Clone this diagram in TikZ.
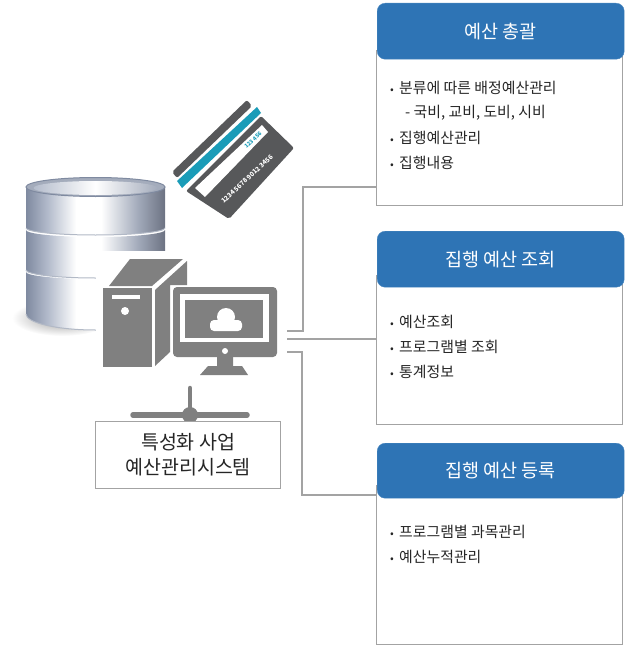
\documentclass[tikz,border=0pt]{standalone}
\usepackage{fontspec}
\setmainfont{Noto Sans CJK KR}
\usepackage{tikz}
\usetikzlibrary{positioning}
\definecolor{colorHead}{HTML}{2E74B5}
\definecolor{colorLine}{HTML}{A3A3A3}
\definecolor{colorIcon}{HTML}{808080}
\definecolor{colorCard}{HTML}{57585A}
\definecolor{colorTeal}{HTML}{1A9CB8}
\definecolor{tierA}{HTML}{7F8AA0}
\definecolor{tierB}{HTML}{B4BCCC}
\definecolor{tierC}{HTML}{A4ACBC}
\definecolor{tierD}{HTML}{6C7282}
\pgfdeclarehorizontalshading{tiershade}{100bp}{
  color(0bp)=(tierA); color(25bp)=(tierA);
  color(33bp)=(tierB); color(43bp)=(white);
  color(52bp)=(white); color(65bp)=(tierC);
  color(75bp)=(tierD); color(100bp)=(tierD)}
\tikzset{
  headbox/.style={draw=colorHead!85!white, fill=colorHead, rounded corners=8pt, text=white,
    minimum width=247pt, minimum height=56pt, inner sep=0pt, anchor=north west, font=\fontsize{18.5}{20}\selectfont},
  bodybox/.style={draw=colorLine, line width=1.2pt, fill=white, minimum width=246pt, inner sep=0pt, anchor=north west},
  listitem/.style={anchor=west, inner sep=0pt, text=black!85, font=\fontsize{14.9}{16}\selectfont},
  wire/.style={draw=colorLine, line width=1.2pt},
  tier/.style={shading=tiershade},
  tieredge/.style={draw=tierA!60!white, line width=1pt},
  icon/.style={fill=colorIcon, draw=none}
}
\newcommand{\itm}[1]{\makebox[9pt][l]{\raisebox{0.5pt}{\fontsize{11}{11}\selectfont •}}#1}
\newcommand{\dbtier}[3]{
  \path[tier] (26,#1) -- (26,#2) arc[start angle=180, end angle=0, x radius=69.5, y radius=#3]
    -- (165,#1) arc[start angle=0, end angle=180, x radius=69.5, y radius=7] -- cycle;
  \draw[tieredge] (26,#2) arc[start angle=180, end angle=0, x radius=69.5, y radius=#3];
}
\begin{document}
\begin{tikzpicture}[x=1pt,y=-1pt]
  \useasboundingbox (0,0) rectangle (629,650);
  % database
  \shade[inner color=black!40, outer color=white] (62,318) ellipse [x radius=50, y radius=18];
  \dbtier{272}{314}{16}
  \dbtier{230}{270}{8}
  \dbtier{187}{228}{7}
  \draw[tierA, fill=tierC, line width=1pt] (95.5,187) ellipse [x radius=69.5, y radius=9.5];
  \shade[left color=tierB, right color=tierC, middle color=white] (95.5,188) ellipse [x radius=62, y radius=7];
  % white back of the computer
  \fill[white] (96,251) rectangle (285,385);
  % card
  \fill[colorCard, rounded corners=2pt] (172,172) -- (247,100) -- (252,106) -- (177,178) -- cycle;
  \fill[colorTeal] (177,181) -- (257,107) -- (261,113) -- (182,188) -- cycle;
  \fill[colorCard, rounded corners=2pt] (186,191) -- (261,116) -- (294,148) -- (229,219) -- cycle;
  \fill[white] (195,188) -- (262,125) -- (268,132) -- (205,197) -- cycle;
  \node (cardcode) [rotate=43, text=colorTeal, inner sep=0pt, font=\fontsize{5.5}{6}\selectfont\bfseries] at (253,140) {123 456};
  \node (cardnum) [rotate=43, text=white, inner sep=0pt, font=\fontsize{6.5}{7}\selectfont\bfseries] at (247,179) {1234 5678 9012 3456};
  % computer
  \fill[icon] (103,288) -- (152,288) -- (152,367) -- (103,367) -- cycle;
  \fill[icon] (109,286) -- (130,259) -- (183,259) -- (152,286) -- cycle;
  \fill[icon] (155,290) -- (187,261) -- (187,285) -- (170,285) -- (170,352) -- (155,366) -- cycle;
  \fill[white] (112,295) rectangle (140,299);
  \fill[white] (125,311) circle (4);
  \fill[icon, rounded corners=4pt] (173,287) rectangle (277,357);
  \fill[white] (180,294) rectangle (269,342);
  \fill[icon] (185,300) rectangle (263,338);
  \fill[white, rounded corners=4pt] (210,320) rectangle (242,331);
  \fill[white] (226,317) circle (9);
  \fill[white] (225,351) circle (3);
  \fill[icon] (217,357) -- (233,357) -- (233,366) -- (242,366) -- (248,375) -- (200,375) -- (208,366) -- (217,366) -- cycle;
  % network
  \coordinate (netTop) at (190,388);
  \coordinate (netMid) at (190,415);
  \coordinate (netLeft) at (133,415);
  \coordinate (netRight) at (247,415);
  \draw[colorIcon, line width=4.5pt, line cap=round] (netTop) -- (netMid);
  \draw[colorIcon, line width=5.5pt, line cap=round] (netLeft) -- (netRight);
  \fill[colorIcon] (netMid) circle (8);
  \node (system) [draw=colorLine, line width=1.2pt, fill=white, minimum width=185pt, minimum height=67pt, inner sep=0pt,
    align=center, anchor=north west, text=black!85, font=\fontsize{19.5}{25}\selectfont] at (95,421) {특성화 사업\\예산관리시스템};
  % boxes
  \node (sumBody) [bodybox, minimum height=155pt] at (376,50) {};
  \node (sumHead) [headbox] at (377,3) {예산 총괄};
  \node (viewBody) [bodybox, minimum height=149pt] at (376,275) {};
  \node (viewHead) [headbox] at (377,231) {집행 예산 조회};
  \node (regBody) [bodybox, minimum height=159pt] at (376,485) {};
  \node (regHead) [headbox, minimum height=55pt] at (377,443) {집행 예산 등록};
  % lists
  \node (sumA) [listitem] at (390,88) {\itm{분류에 따른 배정예산관리}};
  \node (sumB) [listitem] at (405,113) {- 국비, 교비, 도비, 시비};
  \node (sumC) [listitem] at (390,138) {\itm{집행예산관리}};
  \node (sumD) [listitem] at (390,163) {\itm{집행내용}};
  \node (viewA) [listitem] at (390,322) {\itm{예산조회}};
  \node (viewB) [listitem] at (390,347) {\itm{프로그램별 조회}};
  \node (viewC) [listitem] at (390,372) {\itm{통계정보}};
  \node (regA) [listitem] at (390,532) {\itm{프로그램별 과목관리}};
  \node (regB) [listitem] at (390,557) {\itm{예산누적관리}};
  % wires
  \coordinate (outA) at (287,331);
  \coordinate (outB) at (287,339);
  \coordinate (outC) at (287,352);
  \coordinate (inA) at (376,187);
  \coordinate (inB) at (376,339);
  \coordinate (inC) at (376,495);
  \coordinate (bendA) at (303,187);
  \coordinate (bendC) at (302,495);
  \draw[wire] (outA) -| (bendA) -- (inA);
  \draw[wire] (outB) -- (inB);
  \draw[wire] (outC) -| (bendC) -- (inC);
\end{tikzpicture}
\end{document}
